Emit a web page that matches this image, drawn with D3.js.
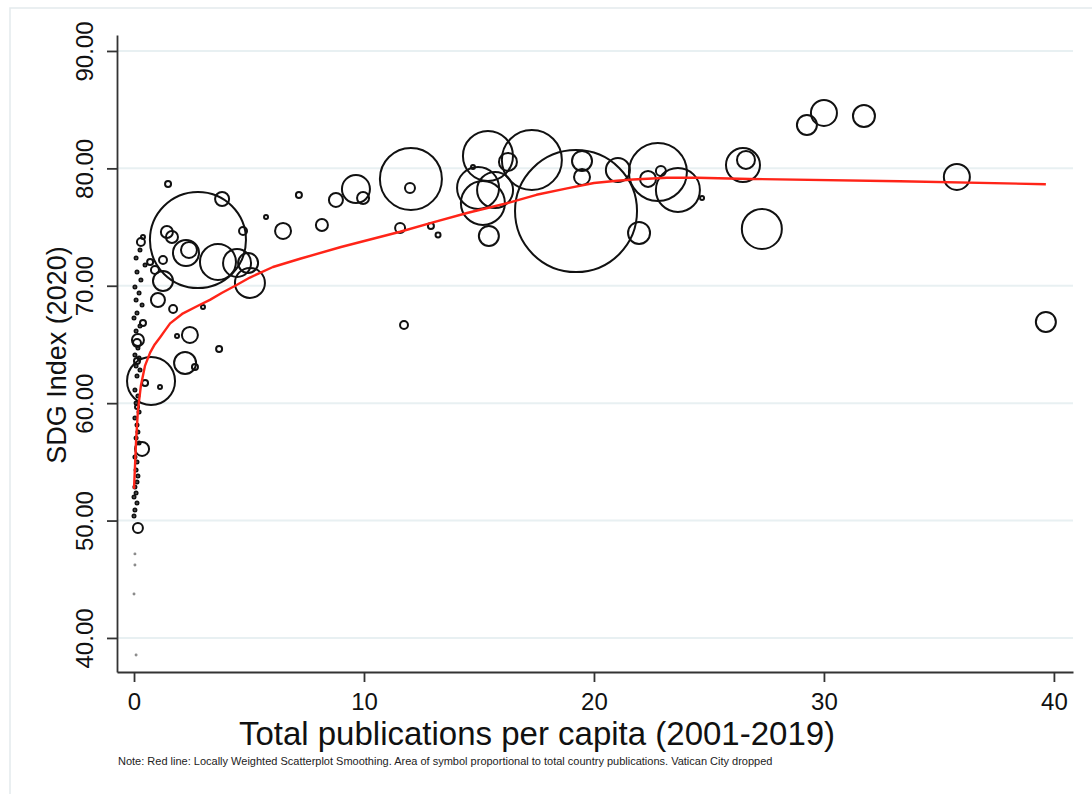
<!DOCTYPE html>
<html>
<head>
<meta charset="utf-8">
<script src="https://cdn.jsdelivr.net/npm/d3@7"></script>
<style>
  body { margin: 0; background: #fff; }
  svg { display: block; font-family: "Liberation Sans", Arial, Helvetica, sans-serif; }
  .grid line { stroke: #e8f0f2; stroke-width: 2; }
  .axis path, .axis line { stroke: #333; stroke-width: 1.8; }
  .axis text { font-size: 24px; fill: #111; }
  .country { fill: none; stroke: #111; stroke-width: 2; }
  .lowess { fill: none; stroke: #ff2418; stroke-width: 2.4; stroke-linejoin: round; }
</style>
</head>
<body>
<div class="wrapper"></div>
<script>
var svg, xScale, yScale, rScale, plotG;
var dimensions = { width: 1092, height: 794 };

// Publications per capita (2001-2019), SDG index (2020), total publications (thousands)
var pubsPerCapita = [
  19.22, 12.04, 12.00, 15.39, 17.30, 16.26, 14.96, 15.17, 15.70, 15.43,
  12.91, 13.22, 19.48, 19.48, 21.04, 22.78, 23.65, 22.35, 22.91, 24.70,
  21.96, 26.48, 26.61, 29.26, 30.00, 31.74, 27.30, 35.78, 39.65, 11.74,
  11.57, 14.74, 9.65, 8.78, 9.96, 8.17, 6.48, 7.17, 5.74, 4.74,
  5.04, 4.96, 4.48, 3.65, 2.26, 2.39, 2.78, 3.83, 1.48, 1.43,
  1.65, 0.30, 0.39, 1.26, 1.04, 1.70, 0.39, 2.43, 1.87, 3.70,
  2.22, 2.65, 0.74, 0.48, 1.13, 0.17, 0.13, 0.13, 0.35, 0.17,
  3.00, 0.91, 0.70, 1.26, 0.13,
  0.26, 0.09, 0.48, 0.13, 0.30, 0.04, 0.22, 0.09, 0.35, 0.13,
  0.00, 0.26, 0.09, 0.17, 0.04, 0.22, 0.09, 0.26, 0.13, 0.04,
  0.17, 0.09, 0.22, 0.04, 0.13, 0.17, 0.09, 0.22, 0.04, 0.13,
  0.09, 0.17, 0.13, 0.04, 0.09, 0.00, 0.13, 0.04, 0.00,
  0.04, 0.04, 0.00, 0.09
];
var sdgIndex = [
  76.36, 79.10, 78.33, 81.06, 80.72, 80.55, 78.33, 77.05, 78.16, 74.24,
  75.09, 74.33, 80.63, 79.27, 79.86, 79.69, 78.16, 79.10, 79.78, 77.48,
  74.50, 80.29, 80.72, 83.70, 84.72, 84.46, 74.84, 79.27, 66.92, 66.66,
  74.92, 80.12, 78.24, 77.31, 77.48, 75.18, 74.67, 77.73, 75.86, 74.67,
  70.24, 71.94, 71.94, 72.03, 72.79, 73.05, 73.90, 77.39, 78.67, 74.58,
  74.16, 73.73, 74.16, 70.41, 68.79, 68.02, 66.83, 65.81, 65.72, 64.62,
  63.42, 63.08, 61.89, 61.72, 61.38, 65.38, 65.12, 63.59, 56.10, 49.37,
  68.19, 71.35, 72.03, 72.20, 59.68,
  73.05, 72.37, 71.77, 71.18, 70.49, 69.90, 69.39, 68.79, 68.36, 67.68,
  67.26, 66.58, 66.15, 64.70, 64.11, 63.85, 63.17, 62.83, 62.32, 61.12,
  60.61, 60.01, 59.25, 58.74, 58.14, 57.55, 57.04, 56.61, 55.42, 54.99,
  54.31, 53.80, 53.29, 52.86, 52.35, 52.01, 51.50, 50.90, 50.39,
  47.16, 46.22, 43.75, 38.55
];
var totalPubs = [
  6580, 1700, 44, 1106, 1592, 143, 780, 856, 573, 177,
  16, 11, 177, 113, 255, 1488, 856, 113, 44, 7,
  214, 511, 143, 177, 299, 214, 708, 299, 177, 28,
  44, 7, 347, 87, 64, 64, 113, 16, 7, 28,
  398, 177, 347, 573, 299, 113, 4076, 87, 16, 64,
  64, 28, 7, 177, 87, 28, 16, 113, 7, 16,
  214, 16, 1019, 16, 7, 64, 28, 16, 87, 44,
  7, 28, 16, 28, 7,
  4, 4, 4, 4, 4, 4, 4, 4, 4, 4,
  4, 4, 4, 4, 4, 4, 4, 4, 4, 4,
  4, 4, 4, 4, 4, 4, 4, 4, 4, 4,
  4, 4, 4, 4, 4, 4, 4, 4, 4,
  1.2, 1.2, 1.2, 1.2
];

// Lowess smoother
var lowessX = [0, 0.09, 0.17, 0.30, 0.48, 0.70, 0.9, 1.13, 1.35, 1.57, 2.09, 2.78, 3.3, 3.83, 4.4, 5.04, 6.04, 7.22, 9.0, 11.57, 13.0, 14.48, 16.35, 17.5, 18.83, 20.0, 21.0, 21.7, 23.17, 24.5, 26.78, 33.3, 39.65];
var lowessY = [52.7, 56.8, 59.4, 61.5, 63.2, 64.3, 65.0, 65.6, 66.2, 66.8, 67.6, 68.3, 68.8, 69.4, 70.0, 70.7, 71.6, 72.3, 73.3, 74.6, 75.4, 76.2, 77.1, 77.75, 78.3, 78.75, 78.95, 79.05, 79.2, 79.2, 79.1, 78.9, 78.65];

var xTicks = [0, 10, 20, 30, 40];
var yTicks = [40, 50, 60, 70, 80, 90];
var xTitle = "Total publications per capita (2001-2019)";
var yTitle = "SDG Index (2020)";
var note = "Note: Red line: Locally Weighted Scatterplot Smoothing. Area of symbol proportional to total country publications. Vatican City dropped";

function initChart() {
  svg = d3.select(".wrapper").append("svg")
    .attr("width", dimensions.width)
    .attr("height", dimensions.height);

  svg.append("rect")
    .attr("width", dimensions.width)
    .attr("height", dimensions.height)
    .attr("fill", "#fff");

  // light outer frame of the graph region
  svg.append("path")
    .attr("d", "M10," + dimensions.height + "V8H" + dimensions.width)
    .attr("fill", "none")
    .attr("stroke", "#e3eaed")
    .attr("stroke-width", 1.5);

  setup();
  drawGrid();
  drawPoints();
  drawLowess();
  drawAxes();
  drawText();
}

function setup() {
  xScale = d3.scaleLinear().domain([-0.74, 40.83]).range([117, 1073]);
  yScale = d3.scaleLinear().domain([37.1, 91.36]).range([672, 35]);
  rScale = d3.scaleSqrt().domain([0, 6580]).range([0, 61]);
  plotG = svg.append("g").classed("plot", true);
}

function drawGrid() {
  plotG.append("g").attr("class", "grid")
    .selectAll("line")
    .data(yTicks)
    .enter()
    .append("line")
    .attr("x1", xScale.range()[0])
    .attr("x2", xScale.range()[1])
    .attr("y1", d => yScale(d))
    .attr("y2", d => yScale(d));
}

function drawPoints() {
  var points = pubsPerCapita.map((x, i) => ({ x: x, y: sdgIndex[i], pubs: totalPubs[i] }));
  points.sort((a, b) => b.pubs - a.pubs);

  plotG.append("g")
    .selectAll(".country")
    .data(points)
    .enter()
    .append("circle")
    .attr("class", "country")
    .attr("cx", d => xScale(d.x))
    .attr("cy", d => yScale(d.y))
    .attr("r", d => rScale(d.pubs))
    .style("stroke", d => (d.pubs < 2 ? "#8a8a8a" : null))
    .style("stroke-width", d => (d.pubs < 2 ? 1.3 : null));
}

function drawLowess() {
  var line = d3.line()
    .x(d => xScale(d[0]))
    .y(d => yScale(d[1]));

  plotG.append("path")
    .datum(lowessX.map((x, i) => [x, lowessY[i]]))
    .attr("class", "lowess")
    .attr("d", line);
}

function drawAxes() {
  var xAxis = d3.axisBottom(xScale)
    .tickValues(xTicks)
    .tickSize(10)
    .tickSizeOuter(0)
    .tickPadding(11);

  svg.append("g")
    .attr("class", "axis x-axis")
    .attr("transform", "translate(0," + yScale.range()[0] + ")")
    .call(xAxis);

  var yAxis = d3.axisLeft(yScale)
    .tickValues(yTicks)
    .tickFormat(d3.format(".2f"))
    .tickSize(10)
    .tickSizeOuter(0);

  svg.append("g")
    .attr("class", "axis y-axis")
    .attr("transform", "translate(" + xScale.range()[0] + ",0)")
    .call(yAxis)
    .selectAll("text")
    .attr("x", 0)
    .attr("dy", 0)
    .attr("transform", "translate(-24,0) rotate(-90)")
    .style("text-anchor", "middle");

  svg.selectAll(".axis .domain").attr("stroke", "#333");
}

function drawText() {
  svg.append("text")
    .attr("x", 537)
    .attr("y", 745)
    .attr("text-anchor", "middle")
    .style("font-size", "33px")
    .style("fill", "#111")
    .text(xTitle);

  svg.append("text")
    .attr("transform", "translate(66,355) rotate(-90)")
    .attr("text-anchor", "middle")
    .style("font-size", "27px")
    .style("fill", "#111")
    .text(yTitle);

  svg.append("text")
    .attr("x", 118)
    .attr("y", 765)
    .style("font-size", "11px")
    .style("fill", "#222")
    .text(note);
}

initChart();
</script>
</body>
</html>
